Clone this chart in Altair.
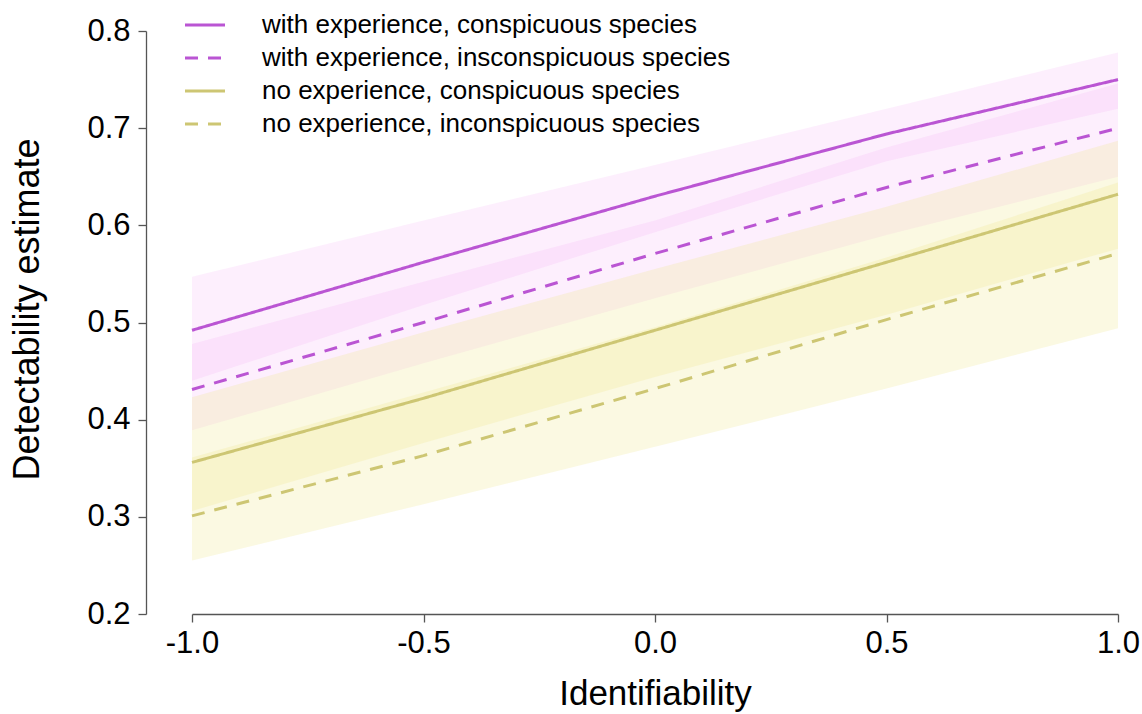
import altair as alt
import pandas as pd

# Identifiability values at which the model predictions are evaluated
identifiability = [-1.0, -0.5, 0.0, 0.5, 1.0]

series_names = [
    "with experience, conspicuous species",
    "with experience, insconspicuous species",
    "no experience, conspicuous species",
    "no experience, inconspicuous species",
]

# Predicted detectability (mean) and confidence bounds for each group
wc_mean = [0.492, 0.562, 0.630, 0.694, 0.750]
wc_lower = [0.440, 0.518, 0.593, 0.666, 0.720]
wc_upper = [0.547, 0.605, 0.662, 0.720, 0.778]

wi_mean = [0.431, 0.500, 0.571, 0.639, 0.700]
wi_lower = [0.389, 0.458, 0.525, 0.590, 0.650]
wi_upper = [0.478, 0.542, 0.605, 0.680, 0.746]

nc_mean = [0.356, 0.422, 0.492, 0.562, 0.632]
nc_lower = [0.306, 0.376, 0.444, 0.508, 0.576]
nc_upper = [0.423, 0.490, 0.555, 0.619, 0.687]

ni_mean = [0.301, 0.363, 0.432, 0.503, 0.571]
ni_lower = [0.255, 0.313, 0.372, 0.432, 0.494]
ni_upper = [0.361, 0.428, 0.495, 0.567, 0.644]

y_ticks = [0.2, 0.3, 0.4, 0.5, 0.6, 0.7, 0.8]
x_ticks = [-1.0, -0.5, 0.0, 0.5, 1.0]

line_colors = ["#BA55D3", "#BA55D3", "#CDC673", "#CDC673"]
band_colors = [
    "rgba(238,130,238,0.13)",
    "rgba(238,130,238,0.13)",
    "rgba(240,230,140,0.25)",
    "rgba(240,230,140,0.25)",
]
dash_styles = [[1, 0], [13, 10], [1, 0], [13, 10]]

groups = [
    (wc_mean, wc_lower, wc_upper),
    (wi_mean, wi_lower, wi_upper),
    (nc_mean, nc_lower, nc_upper),
    (ni_mean, ni_lower, ni_upper),
]

rows = []
for name, (mean, lower, upper) in zip(series_names, groups):
    for x, m, lo, hi in zip(identifiability, mean, lower, upper):
        rows.append({"series": name, "band": "band: " + name,
                     "x": x, "est": m, "lower": lo, "upper": hi})
df = pd.DataFrame(rows)

FONT = "Liberation Sans"
AXIS_GREY = "#555555"

x_enc = alt.X(
    "x:Q",
    scale=alt.Scale(domain=[-1, 1], nice=False, zero=False),
    axis=alt.Axis(
        values=x_ticks,
        labelExpr="(datum.value < 0 ? '-' : '') + format(abs(datum.value), '.1f')",
        labelFlush=False,
        title="Identifiability",
        grid=False,
        domainColor=AXIS_GREY,
        tickColor=AXIS_GREY,
        domainWidth=1.3,
        tickWidth=1.3,
        tickSize=8,
        labelFontSize=31,
        labelColor="black",
        labelPadding=6,
        labelFont=FONT,
        titleFont=FONT,
        titleFontSize=35,
        titleFontWeight="normal",
        titleColor="black",
        titlePadding=18,
    ),
)

y_scale = alt.Scale(domain=[0.2, 0.8], nice=False, zero=False)
y_axis = alt.Axis(
    values=y_ticks,
    format=".1f",
    labelFlush=False,
    title="Detectability estimate",
    titleY=278,
    grid=False,
    offset=46,
    domainColor=AXIS_GREY,
    tickColor=AXIS_GREY,
    domainWidth=1.3,
    tickWidth=1.3,
    tickSize=8,
    labelFontSize=31,
    labelColor="black",
    labelPadding=8,
    labelFont=FONT,
    titleFont=FONT,
    titleFontSize=36,
    titleFontWeight="normal",
    titleColor="black",
    titlePadding=40,
)

bands = alt.Chart(df).mark_area(strokeWidth=0).encode(
    x=x_enc,
    y=alt.Y("lower:Q", scale=y_scale, axis=y_axis),
    y2="upper:Q",
    fill=alt.Fill(
        "band:N",
        scale=alt.Scale(domain=["band: " + s for s in series_names], range=band_colors),
        legend=None,
    ),
)

# A long horizontal path keeps the key line 40px wide while the
# legend rows stay compact.
legend = alt.Legend(
    title=None,
    orient="none",
    legendX=0,
    legendY=-19,
    symbolType="M-2,0L2,0",
    symbolSize=400,
    symbolStrokeWidth=3,
    labelFontSize=26,
    labelFont=FONT,
    labelColor="black",
    labelOffset=44,
    labelLimit=800,
    rowPadding=7,
)

lines = alt.Chart(df).mark_line(strokeWidth=3).encode(
    x="x:Q",
    y=alt.Y("est:Q", scale=y_scale),
    stroke=alt.Stroke(
        "series:N",
        scale=alt.Scale(domain=series_names, range=line_colors),
        legend=legend,
    ),
    strokeDash=alt.StrokeDash(
        "series:N",
        scale=alt.Scale(domain=series_names, range=dash_styles),
        legend=legend,
    ),
)

chart = (
    alt.layer(bands, lines)
    .properties(
        width=926,
        height=583,
        autosize=alt.AutoSizeParams(type="none"),
        padding={"left": 192, "top": 31, "right": 24, "bottom": 100},
        background="white",
    )
    .configure_view(stroke=None)
)

chart.save("out.html", embed_options={"renderer": "svg", "actions": False})
